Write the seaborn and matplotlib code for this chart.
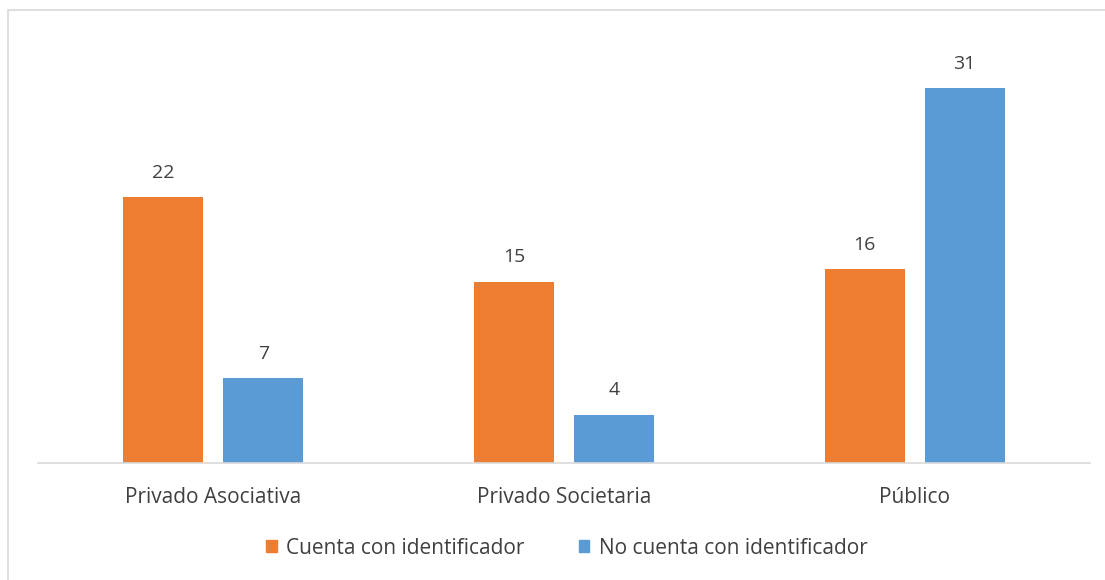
import pandas as pd
import seaborn as sns
import matplotlib.pyplot as plt
from matplotlib.patches import Rectangle

## Datos
categorias = ['Privado Asociativa', 'Privado Societaria', 'Público']
series = ['Cuenta con identificador', 'No cuenta con identificador']
cuenta = [22, 15, 16]
no_cuenta = [7, 4, 31]
colores = ['#ED7D31', '#5B9BD5']

df = pd.DataFrame({
    'Tipo': categorias * 2,
    'Serie': [series[0]] * 3 + [series[1]] * 3,
    'Valor': cuenta + no_cuenta,
})

sns.set_theme(style='white')
plt.rcParams['font.family'] = ['Open Sans', 'DejaVu Sans']

fig = plt.figure(figsize=(11.05, 5.8), dpi=100)
ax = fig.add_axes([0.0344, 0.2017, 0.952, 0.73])

sns.barplot(data=df, x='Tipo', y='Valor', hue='Serie', palette=colores,
            width=0.57, gap=0.2, ax=ax, legend=False, saturation=1, linewidth=0)

for cont in ax.containers:
    ax.bar_label(cont, padding=11, fontsize=14, color='#404040')

ax.set_ylim(0, 35)
ax.set_xlim(-0.5, 2.5)
ax.set_yticks([])
ax.set_xlabel('')
ax.set_ylabel('')
for s in ['top', 'right', 'left']:
    ax.spines[s].set_visible(False)
ax.spines['bottom'].set_color('#D9D9D9')
ax.spines['bottom'].set_linewidth(1.2)
ax.tick_params(axis='x', length=0, pad=17, labelsize=15, labelcolor='#404040')

handles = [Rectangle((0, 0), 1, 1, color=c) for c in colores]
fig.legend(handles, series, loc='center', bbox_to_anchor=(0.513, 0.055), ncol=2,
           frameon=False, fontsize=15, labelcolor='#404040',
           handlelength=0.5, handleheight=0.5, handletextpad=0.45, columnspacing=2.6)

# borde del area del grafico
fig.patches.append(Rectangle((8 / 1105, -0.1), 1.2, (570 / 580) + 0.1, fill=False,
                             edgecolor='#D9D9D9', linewidth=1.2,
                             transform=fig.transFigure, figure=fig))

plt.savefig('out.png', dpi=100)
